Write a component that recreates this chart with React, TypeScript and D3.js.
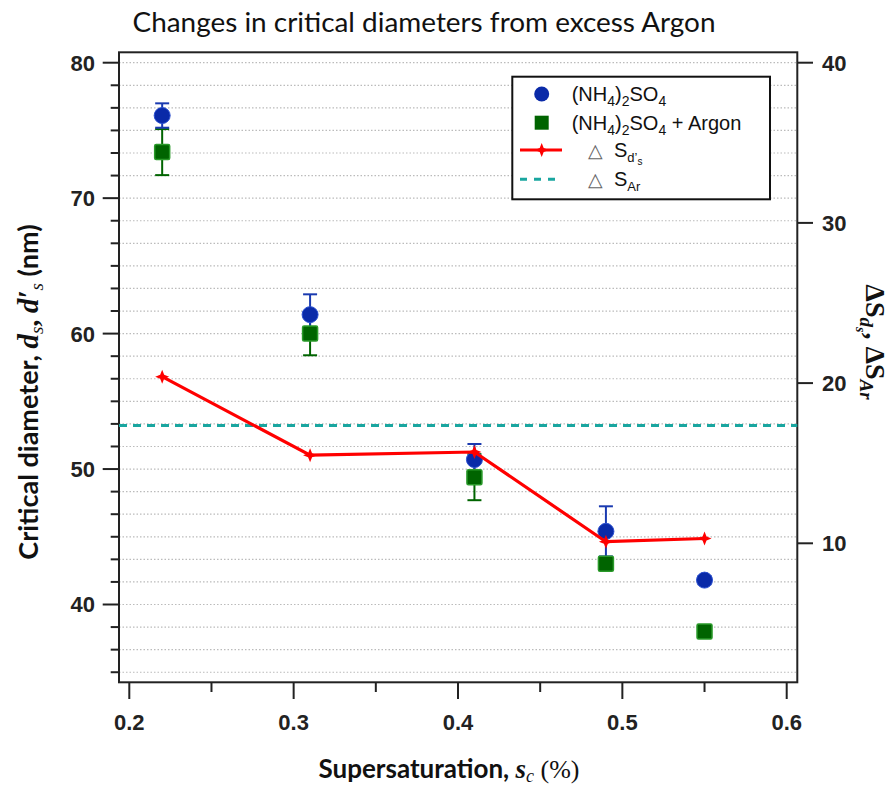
import React from "react";
import * as d3 from "d3";

const supersat = [0.22, 0.31, 0.41, 0.49, 0.55];
const diamAS = [76.1, 61.4, 50.7, 45.4, 41.8];
const errAS = [0.9, 1.5, 1.15, 1.85, 0.3];
const diamAr = [73.4, 60.0, 49.4, 43.0, 38.0];
const errAr = [1.7, 1.6, 1.7, 0.3, 0.3];
const deltaSd = [20.4, 15.5, 15.7, 10.1, 10.3];
const deltaSAr = 17.35;
const xTicks = [0.2, 0.3, 0.4, 0.5, 0.6];
const xMinor = [0.25, 0.35, 0.45, 0.55];
const yLeftTicks = [40, 50, 60, 70, 80];
const yRightTicks = [10, 20, 30, 40];

const W = 894, H = 786;
const L = 119, R = 797.3, T = 52.3, B = 682.3;

export default function App() {
  const x = d3.scaleLinear().domain([0.2, 0.6]).range([129.3, 786.7]);
  const yL = d3.scaleLinear().domain([40, 80]).range([604.5, 62.7]);
  const yR = d3.scaleLinear().domain([10, 40]).range([543.3, 62.7]);
  const gridVals = d3.range(0, 28).map((k) => 35 + (k * 10) / 6);
  const line = d3
    .line<number>()
    .x((_, i) => x(supersat[i]))
    .y((d) => yR(d));
  const star = (cx: number, cy: number) =>
    `M${cx},${cy - 7}L${cx + 2},${cy - 2}L${cx + 7},${cy}L${cx + 2},${cy + 2}L${cx},${cy + 7}L${cx - 2},${cy + 2}L${cx - 7},${cy}L${cx - 2},${cy - 2}Z`;
  const blue = "#0a2aa8";
  const blueEdge = "#2a4fd0";
  const green = "#006400";
  const greenEdge = "#2a9a2a";
  const red = "#ff0000";
  const teal = "#1aa6a0";
  const tickFont = "'Liberation Sans', Arial, sans-serif";
  const titleFont = "Lato, 'Open Sans', sans-serif";
  const serif = "'Liberation Serif', 'DejaVu Serif', serif";

  return (
    <svg width={W} height={H} style={{ position: "absolute", left: 0, top: 0, background: "#fff" }}>
      <rect x={0} y={0} width={W} height={H} fill="#fff" />
      <text x={424} y={32} textAnchor="middle" fontFamily={titleFont} fontSize={26} textLength={583} lengthAdjust="spacingAndGlyphs" fill="#111">
        Changes in critical diameters from  excess Argon
      </text>

      {/* grid */}
      {gridVals.map((v, i) => (
        <line key={"g" + i} x1={L} x2={R} y1={yL(v)} y2={yL(v)} stroke="#bbbbbb" strokeWidth={1.2} strokeDasharray="1.5,2" />
      ))}

      {/* frame */}
      <rect x={L} y={T} width={R - L} height={B - T} fill="none" stroke="#222" strokeWidth={2} />

      {/* left ticks */}
      {gridVals.map((v, i) => {
        const major = Math.abs(v % 10) < 0.01 || Math.abs((v % 10) - 10) < 0.01;
        return <line key={"lt" + i} x1={major ? 102.7 : 110.7} x2={L} y1={yL(v)} y2={yL(v)} stroke="#222" strokeWidth={2} />;
      })}
      {yLeftTicks.map((v) => (
        <text key={"ll" + v} x={95} y={yL(v)} dy="0.36em" textAnchor="end" fontFamily={tickFont} fontWeight="bold" fontSize={22} fill="#222">
          {v}
        </text>
      ))}
      {/* right ticks */}
      {yRightTicks.map((v) => (
        <g key={"r" + v}>
          <line x1={R} x2={813} y1={yR(v)} y2={yR(v)} stroke="#222" strokeWidth={2} />
          <text x={822} y={yR(v)} dy="0.36em" fontFamily={tickFont} fontWeight="bold" fontSize={22} fill="#222">
            {v}
          </text>
        </g>
      ))}
      {/* x ticks */}
      {xTicks.map((v) => (
        <g key={"x" + v}>
          <line x1={x(v)} x2={x(v)} y1={B} y2={699} stroke="#222" strokeWidth={2} />
          <text x={x(v)} y={722} dy="0.36em" textAnchor="middle" fontFamily={tickFont} fontWeight="bold" fontSize={22} fill="#222">
            {v.toFixed(1)}
          </text>
        </g>
      ))}
      {xMinor.map((v) => (
        <line key={"xm" + v} x1={x(v)} x2={x(v)} y1={B} y2={692} stroke="#222" strokeWidth={2} />
      ))}

      {/* dashed Ar line */}
      <line x1={L} x2={R} y1={yR(deltaSAr)} y2={yR(deltaSAr)} stroke={teal} strokeWidth={3} strokeDasharray="8,6" />

      {/* error bars */}
      {supersat.map((s, i) => (
        <g key={"ea" + i} stroke={green} strokeWidth={2}>
          <line x1={x(s)} x2={x(s)} y1={yL(diamAr[i] - errAr[i])} y2={yL(diamAr[i] + errAr[i])} />
          <line x1={x(s) - 7} x2={x(s) + 7} y1={yL(diamAr[i] - errAr[i])} y2={yL(diamAr[i] - errAr[i])} />
          <line x1={x(s) - 7} x2={x(s) + 7} y1={yL(diamAr[i] + errAr[i])} y2={yL(diamAr[i] + errAr[i])} />
        </g>
      ))}
      {supersat.map((s, i) => (
        <g key={"eb" + i} stroke="#1a3ab0" strokeWidth={2}>
          <line x1={x(s)} x2={x(s)} y1={yL(diamAS[i] - errAS[i])} y2={yL(diamAS[i] + errAS[i])} />
          <line x1={x(s) - 7} x2={x(s) + 7} y1={yL(diamAS[i] - errAS[i])} y2={yL(diamAS[i] - errAS[i])} />
          <line x1={x(s) - 7} x2={x(s) + 7} y1={yL(diamAS[i] + errAS[i])} y2={yL(diamAS[i] + errAS[i])} />
        </g>
      ))}

      {/* squares */}
      {supersat.map((s, i) => (
        <rect key={"sq" + i} x={x(s) - 7.5} y={yL(diamAr[i]) - 7.5} width={15} height={15} rx={1.5} fill={green} stroke={greenEdge} strokeWidth={1.5} />
      ))}
      {/* circles */}
      {supersat.map((s, i) => (
        <circle key={"c" + i} cx={x(s)} cy={yL(diamAS[i])} r={8} fill={blue} stroke={blueEdge} strokeWidth={1} />
      ))}

      {/* red line */}
      <path d={line(deltaSd) || ""} fill="none" stroke={red} strokeWidth={3.2} />
      {supersat.map((s, i) => (
        <path key={"st" + i} d={star(x(s), yR(deltaSd[i]))} fill={red} />
      ))}

      {/* legend */}
      <rect x={512.3} y={76.7} width={257.7} height={122.6} fill="#fff" stroke="#111" strokeWidth={2} />
      <circle cx={541.7} cy={94} r={7.5} fill={blue} />
      <rect x={534.7} y={115.7} width={14} height={14} fill={green} />
      <line x1={520} x2={562} y1={150} y2={150} stroke={red} strokeWidth={3.2} />
      <path d={star(541.7, 150)} fill={red} />
      <line x1={520} x2={560} y1={179.3} y2={179.3} stroke={teal} strokeWidth={3} strokeDasharray="7,7" />
      <g fontFamily={tickFont} fontSize={20} fill="#111">
        <text x={571.7} y={101}>
          (NH<tspan fontSize={14} dy={5}>4</tspan>
          <tspan dy={-5}>)</tspan>
          <tspan fontSize={14} dy={5}>2</tspan>
          <tspan dy={-5}>SO</tspan>
          <tspan fontSize={14} dy={5}>4</tspan>
        </text>
        <text x={571.7} y={130}>
          (NH<tspan fontSize={14} dy={5}>4</tspan>
          <tspan dy={-5}>)</tspan>
          <tspan fontSize={14} dy={5}>2</tspan>
          <tspan dy={-5}>SO</tspan>
          <tspan fontSize={14} dy={5}>4</tspan>
          <tspan dy={-5}> + Argon</tspan>
        </text>
        <text x={595} y={157} textAnchor="middle" fill="#666" fontSize={19}>△</text>
        <text x={614} y={157}>
          S<tspan fontSize={13} dy={5}>d’</tspan>
          <tspan fontSize={10} dy={3}>s</tspan>
        </text>
        <text x={595} y={186} textAnchor="middle" fill="#666" fontSize={19}>△</text>
        <text x={614} y={186}>
          S<tspan fontSize={13} dy={5}>Ar</tspan>
        </text>
      </g>

      {/* x axis title */}
      <text x={449} y={778} textAnchor="middle" fontSize={26} fill="#111">
        <tspan fontFamily={titleFont} fontWeight="bold">Supersaturation, </tspan>
        <tspan fontFamily={serif} fontStyle="italic" fontWeight="bold" fontSize={27}>s</tspan>
        <tspan fontFamily={serif} fontStyle="italic" fontSize={18} dy={4}>c</tspan>
        <tspan fontFamily={serif} dy={-4}> (%)</tspan>
      </text>

      {/* left axis title */}
      <text transform="translate(38,392) rotate(-90)" textAnchor="middle" fontSize={27} fill="#111">
        <tspan fontFamily={titleFont} fontWeight="bold">Critical diameter, </tspan>
        <tspan fontFamily={serif} fontStyle="italic" fontWeight="bold" fontSize={29}>d</tspan>
        <tspan fontFamily={serif} fontStyle="italic" fontSize={19} dy={5}>s</tspan>
        <tspan fontFamily={serif} fontWeight="bold" dy={-5}>, </tspan>
        <tspan fontFamily={serif} fontStyle="italic" fontWeight="bold" fontSize={29}>d′</tspan>
        <tspan fontFamily={serif} fontStyle="italic" fontSize={19} dy={5}>s</tspan>
        <tspan fontFamily={titleFont} fontWeight="bold" dy={-5}> (nm)</tspan>
      </text>

      {/* right axis title */}
      <text transform="translate(866,342) rotate(90)" textAnchor="middle" fontSize={28} fill="#111" fontFamily={serif} fontWeight="bold">
        <tspan>ΔS</tspan>
        <tspan fontStyle="italic" fontSize={19} dy={6}>d</tspan>
        <tspan fontStyle="italic" fontSize={14} dy={4}>s</tspan>
        <tspan dy={-10}>, ΔS</tspan>
        <tspan fontStyle="italic" fontSize={19} dy={6}>Ar</tspan>
      </text>
    </svg>
  );
}
